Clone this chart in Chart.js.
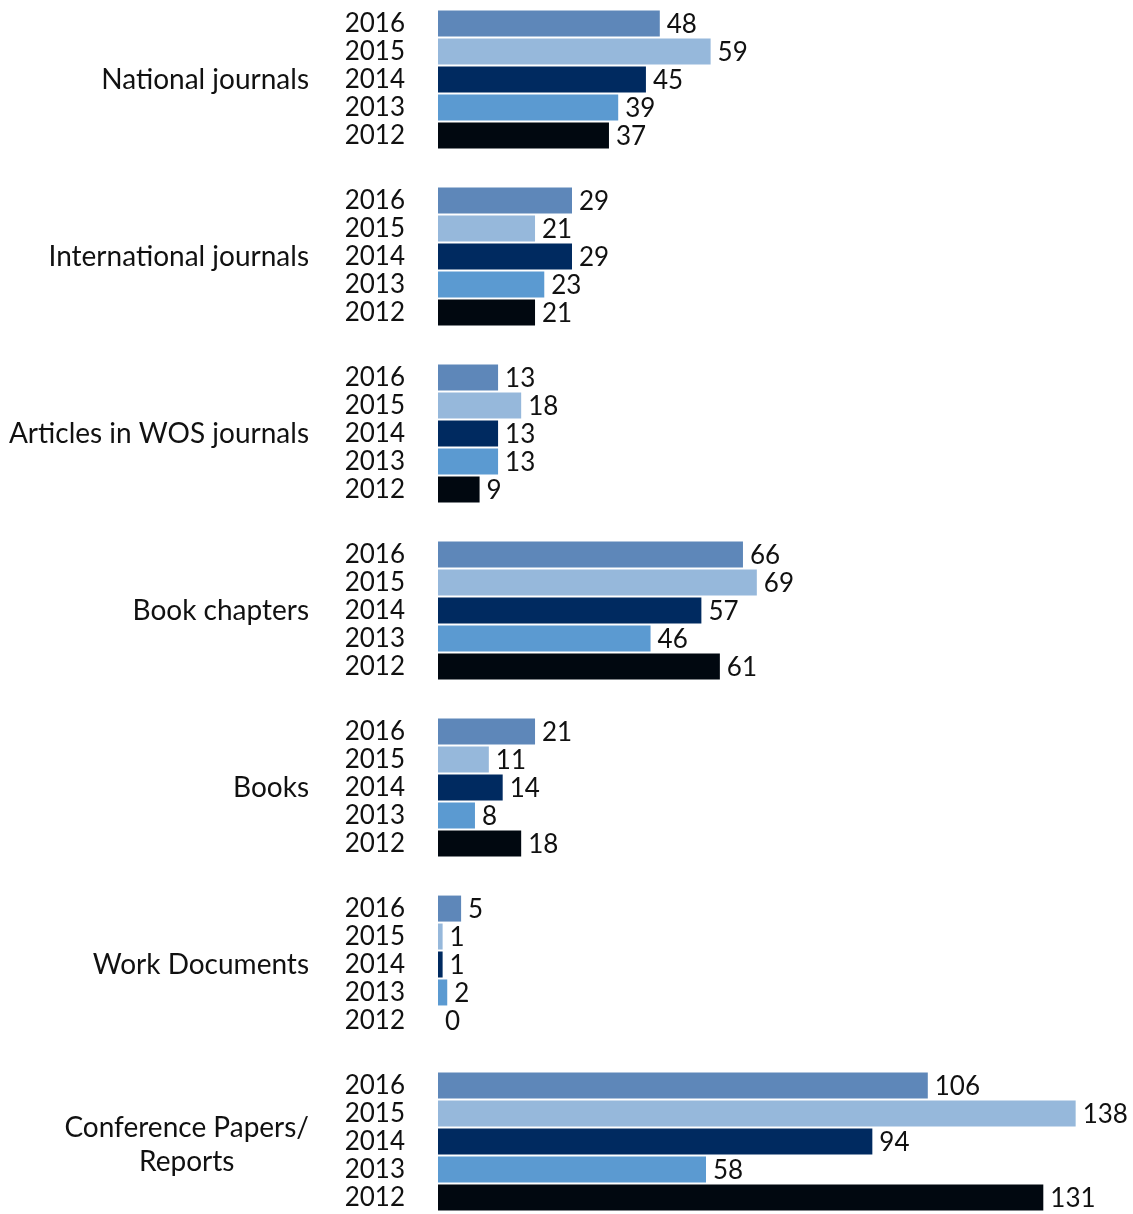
<!DOCTYPE html>
<html>
<head>
<meta charset="utf-8">
<script src="https://cdn.jsdelivr.net/npm/chart.js@4"></script>
<style>
  html, body { margin: 0; padding: 0; background: #fff; overflow: hidden; }
  #wrap { position: absolute; left: 0; top: -9px; width: 1133px; height: 1239px; }
</style>
</head>
<body>
<div id="wrap"><canvas id="chart" width="1133" height="1239"></canvas></div>
<script>
// categorías (de arriba abajo)
const categories = [
  'National journals',
  'International journals',
  'Articles in WOS journals',
  'Book chapters',
  'Books',
  'Work Documents',
  ['Conference Papers/', 'Reports']
];

const years = ['2016', '2015', '2014', '2013', '2012'];

// valores por año, en el orden de las categorías
const values2016 = [48, 29, 13, 66, 21, 5, 106];
const values2015 = [59, 21, 18, 69, 11, 1, 138];
const values2014 = [45, 29, 13, 57, 14, 1, 94];
const values2013 = [39, 23, 13, 46, 8, 2, 58];
const values2012 = [37, 21, 9, 61, 18, 0, 131];

const yearColors = ['#5e87b9', '#96b8db', '#002a60', '#5b9ad1', '#010810'];

const FONT = '26px Lato, "DejaVu Sans", sans-serif';
const CAT_FONT = '28px Lato, "DejaVu Sans", sans-serif';
const TEXT_COLOR = '#111';

const seriesValues = [values2016, values2015, values2014, values2013, values2012];

const datasets = years.map((y, i) => ({
  label: y,
  data: seriesValues[i],
  backgroundColor: yearColors[i],
  borderWidth: 0,
  categoryPercentage: 0.79,
  barPercentage: 0.93
}));

// dibuja años, valores y nombres de categoría
const labelsPlugin = {
  id: 'labelsPlugin',
  afterDatasetsDraw(chart) {
    const ctx = chart.ctx;
    ctx.save();
    ctx.font = FONT;
    ctx.fillStyle = TEXT_COLOR;
    ctx.textBaseline = 'middle';

    chart.data.datasets.forEach((ds, di) => {
      const meta = chart.getDatasetMeta(di);
      meta.data.forEach((bar, idx) => {
        ctx.textAlign = 'left';
        ctx.fillText(String(ds.data[idx]), bar.x + 7, bar.y + 1);
        ctx.textAlign = 'right';
        ctx.fillText(ds.label, 405, bar.y);
      });
    });

    ctx.font = CAT_FONT;
    const yScale = chart.scales.y;
    categories.forEach((cat, i) => {
      const cy = yScale.getPixelForValue(i);
      if (Array.isArray(cat)) {
        const maxW = Math.max(...cat.map(t => ctx.measureText(t).width));
        const cx = 309 - maxW / 2;
        ctx.textAlign = 'center';
        const lh = 34;
        cat.forEach((t, k) => {
          ctx.fillText(t, cx, cy + 3 + (k - (cat.length - 1) / 2) * lh);
        });
      } else {
        ctx.textAlign = 'right';
        ctx.fillText(cat, 309, cy);
      }
    });
    ctx.restore();
  }
};

const chart = new Chart(document.getElementById('chart').getContext('2d'), {
  type: 'bar',
  data: { labels: categories, datasets },
  options: {
    indexAxis: 'y',
    responsive: false,
    animation: false,
    layout: { padding: { left: 438, right: 25, top: 0, bottom: 0 } },
    scales: {
      x: { display: false, min: 0, max: 145 },
      y: { display: false }
    },
    plugins: {
      legend: { display: false },
      tooltip: { enabled: false }
    }
  },
  plugins: [labelsPlugin]
});
</script>
</body>
</html>
